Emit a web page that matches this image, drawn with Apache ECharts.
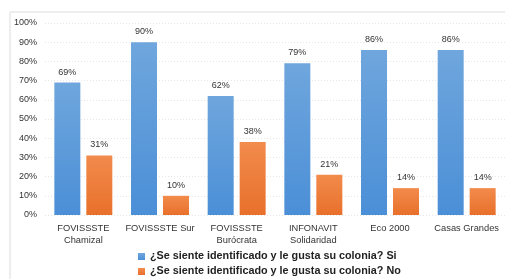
<!DOCTYPE html>
<html>
<head>
<meta charset="utf-8">
<script src="https://cdn.jsdelivr.net/npm/echarts@6/dist/echarts.min.js"></script>
<style>
  html, body { margin: 0; padding: 0; background: #fff; }
  #chart { width: 505px; height: 279px; }
</style>
</head>
<body>
<div id="chart"></div>
<script>
const categories = [
    'FOVISSSTE\nChamizal',
    'FOVISSSTE Sur',
    'FOVISSSTE\nBurócrata',
    'INFONAVIT\nSolidaridad',
    'Eco 2000',
    'Casas Grandes'
];
const seriesSi = [69, 90, 62, 79, 86, 86];
const seriesNo = [31, 10, 38, 21, 14, 14];
const nameSi = '¿Se siente identificado y le gusta su colonia? Si';
const nameNo = '¿Se siente identificado y le gusta su colonia? No';

const font = '"Liberation Sans", Arial, sans-serif';

function grad(top, bottom) {
    return new echarts.graphic.LinearGradient(0, 0, 0, 1, [
        { offset: 0, color: top },
        { offset: 1, color: bottom }
    ]);
}

const chart = echarts.init(document.getElementById('chart'), null, { renderer: 'canvas' });

const labelOpts = {
    show: true,
    position: 'top',
    distance: 6,
    formatter: '{c}%',
    color: '#333',
    fontSize: 9,
    fontFamily: font
};

// one legend per row, the source stacks them vertically
const legendBase = {
    left: 133,
    itemWidth: 7,
    itemHeight: 7,
    icon: 'rect',
    textStyle: { fontSize: 10.8, fontWeight: 'bold', color: '#222', fontFamily: font }
};

chart.setOption({
    animation: false,
    graphic: [{
        type: 'rect',
        shape: { x: 10, y: 12, width: 520, height: 300 },
        style: { fill: 'none', stroke: '#dcdcdc', lineWidth: 1 }
    }],
    grid: { left: 45, top: 23, width: 466, height: 192 },
    legend: [
        Object.assign({ top: 246, data: [nameSi] }, legendBase),
        Object.assign({ top: 261, data: [nameNo] }, legendBase)
    ],
    xAxis: {
        type: 'category',
        data: categories,
        axisLine: { show: false },
        axisTick: { show: false },
        axisLabel: { color: '#333', fontSize: 9.3, fontFamily: font, margin: 7, lineHeight: 12, interval: 0 }
    },
    yAxis: {
        type: 'value',
        min: 0,
        max: 100,
        interval: 10,
        axisLine: { show: false },
        axisTick: { show: false },
        axisLabel: { formatter: '{value}%', color: '#333', fontSize: 9, fontFamily: font, margin: 8 },
        splitLine: { lineStyle: { color: '#e6e6e6', type: [1, 2], width: 1 } }
    },
    series: [
        {
            name: nameSi,
            type: 'bar',
            data: seriesSi,
            barWidth: 26,
            barGap: '23%',
            itemStyle: { color: grad('#6fa6dd', '#4b8fd7') },
            label: labelOpts
        },
        {
            name: nameNo,
            type: 'bar',
            data: seriesNo,
            barWidth: 26,
            itemStyle: { color: grad('#f28b4c', '#e8702b') },
            label: labelOpts
        }
    ]
});
</script>
</body>
</html>
